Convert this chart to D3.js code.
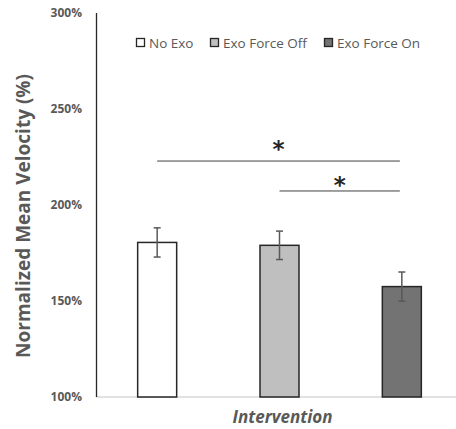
<!DOCTYPE html>
<html>
<head>
<meta charset="utf-8">
<script src="https://cdn.jsdelivr.net/npm/d3@7"></script>
<style>
  html, body { margin: 0; padding: 0; background: #fff; }
  svg { display: block; }
</style>
</head>
<body>
<svg id="chart" width="456" height="429"></svg>
<script>
// Conditions and normalized mean velocity (%) with error bars
const categories = ["No Exo", "Exo Force Off", "Exo Force On"];
const values = [180.5, 179, 157.5];
const errors = [7.6, 7.4, 7.6];
const fills = ["#ffffff", "#bfbfbf", "#737373"];
const yTicks = [100, 150, 200, 250, 300];

// Significance brackets: from / to category index, line level and star level (%)
const sigFrom = [0, 1];
const sigTo = [2, 2];
const sigLevel = [222.9, 207.3];
const sigStar = [231.3, 212.5];

const svg = d3.select("#chart");
const font = "'Open Sans', sans-serif";

const x = d3.scalePoint().domain(categories).range([96, 463]).padding(0.5);
const y = d3.scaleLinear().domain([100, 300]).range([397, 13]);
const barW = 39;

// y axis: tick labels only, plus the vertical line
const yAxis = d3.axisLeft(y).tickValues(yTicks).tickSize(0).tickPadding(14)
  .tickFormat(d => d + "%");
const gy = svg.append("g").attr("transform", "translate(96,0)").call(yAxis);
gy.select(".domain").remove();
gy.selectAll("text")
  .attr("fill", "#595959")
  .style("font-family", font)
  .style("font-size", "12px")
  .style("font-weight", "bold");

// x baseline
svg.append("line")
  .attr("x1", 96).attr("x2", 456)
  .attr("y1", y(100)).attr("y2", y(100))
  .attr("stroke", "#d9d9d9").attr("stroke-width", 1.5);

svg.append("line")
  .attr("x1", 96.5).attr("x2", 96.5)
  .attr("y1", y(300)).attr("y2", y(100))
  .attr("stroke", "#262626").attr("stroke-width", 1.3);

// bars
svg.append("g").selectAll("rect")
  .data(categories)
  .join("rect")
  .attr("x", d => x(d) - barW / 2)
  .attr("y", (d, i) => y(values[i]))
  .attr("width", barW)
  .attr("height", (d, i) => y(100) - y(values[i]))
  .attr("fill", (d, i) => fills[i])
  .attr("stroke", "#262626")
  .attr("stroke-width", 1.5);

// error bars
const eg = svg.append("g").attr("stroke", "#595959").attr("stroke-width", 1.5);
categories.forEach((c, i) => {
  const cx = x(c);
  const top = y(values[i] + errors[i]);
  const bot = y(values[i] - errors[i]);
  eg.append("line").attr("x1", cx).attr("x2", cx).attr("y1", top).attr("y2", bot);
  eg.append("line").attr("x1", cx - 3.5).attr("x2", cx + 3.5).attr("y1", top).attr("y2", top);
  eg.append("line").attr("x1", cx - 3.5).attr("x2", cx + 3.5).attr("y1", bot).attr("y2", bot);
});

// significance lines and stars
const sg = svg.append("g");
sigFrom.forEach((f, i) => {
  const x1 = x(categories[f]);
  const x2 = x(categories[sigTo[i]]) - 2;
  sg.append("line")
    .attr("x1", x1).attr("x2", x2)
    .attr("y1", y(sigLevel[i])).attr("y2", y(sigLevel[i]))
    .attr("stroke", "#404040").attr("stroke-width", 1);
  sg.append("text")
    .attr("x", (x1 + x2) / 2)
    .attr("y", y(sigStar[i]))
    .attr("text-anchor", "middle")
    .attr("dy", "0.52em")
    .attr("fill", "#262626")
    .style("font-family", "'DejaVu Sans', sans-serif")
    .style("font-size", "23px")
    .style("font-weight", "bold")
    .text("*");
});

// legend
const legendX = [136, 210, 324];
const lg = svg.append("g");
categories.forEach((c, i) => {
  lg.append("rect")
    .attr("x", legendX[i] + 0.5).attr("y", 38.5)
    .attr("width", 8).attr("height", 8)
    .attr("fill", fills[i]).attr("stroke", "#262626").attr("stroke-width", 1.3);
  lg.append("text")
    .attr("x", legendX[i] + 13).attr("y", 43)
    .attr("dy", "0.35em")
    .attr("fill", "#595959")
    .style("font-family", font)
    .style("font-size", "13.5px")
    .text(c);
});

// axis titles
svg.append("text")
  .attr("transform", "translate(23,216) rotate(-90)")
  .attr("text-anchor", "middle")
  .attr("dy", "0.35em")
  .attr("fill", "#595959")
  .style("font-family", font)
  .style("font-size", "19px")
  .style("font-weight", "bold")
  .text("Normalized Mean Velocity (%)");

svg.append("text")
  .attr("x", 282.5).attr("y", 423)
  .attr("text-anchor", "middle")
  .attr("fill", "#595959")
  .style("font-family", font)
  .style("font-size", "17px")
  .style("font-weight", "bold")
  .style("font-style", "italic")
  .text("Intervention");
</script>
</body>
</html>
